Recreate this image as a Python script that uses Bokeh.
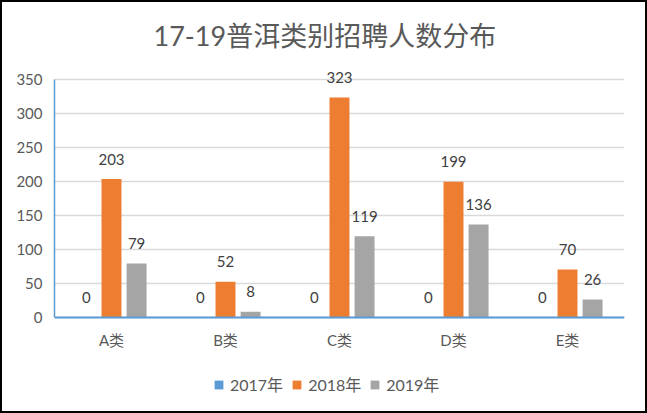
from bokeh.plotting import figure
from bokeh.models import (ColumnDataSource, LabelSet, Legend, LegendItem,
                          Range1d, FixedTicker, FactorRange)
from bokeh.core.properties import value
from bokeh.transform import dodge
from bokeh.embed import file_html
from bokeh.resources import INLINE

title_text = "17-19普洱类别招聘人数分布"
categories = ["A类", "B类", "C类", "D类", "E类"]
series_names = ["2017年", "2018年", "2019年"]
values_2017 = [0, 0, 0, 0, 0]
values_2018 = [203, 52, 323, 199, 70]
values_2019 = [79, 8, 119, 136, 26]
y_ticks = [0, 50, 100, 150, 200, 250, 300, 350]

colors = ["#5B9BD5", "#ED7D31", "#A5A5A5"]
offsets = [-0.22, 0.0, 0.22]
FONT = "Lato, 'Noto Sans CJK SC', sans-serif"

source = ColumnDataSource(dict(
    cat=categories,
    s2017=values_2017, s2018=values_2018, s2019=values_2019,
    l2017=[str(v) for v in values_2017],
    l2018=[str(v) for v in values_2018],
    l2019=[str(v) for v in values_2019],
))

# frame extends below zero so that the category labels and legend sit inside it
p = figure(x_range=FactorRange(*categories), y_range=Range1d(-130, 370),
           frame_width=570, frame_height=340,
           output_backend="svg", toolbar_location=None,
           min_border_left=52, min_border_right=21, min_border_top=63,
           min_border_bottom=6)
p.styles = {"border": "2px solid black"}
p.outline_line_color = None
p.background_fill_color = "white"
p.border_fill_color = "white"

p.title.text = title_text
p.title.align = "left"
p.title.offset = 99
p.title.standoff = 28
p.title.text_font = FONT
p.title.text_font_size = "27px"
p.title.text_font_style = "normal"
p.title.text_color = "#595959"

keys = ["s2017", "s2018", "s2019"]
lkeys = ["l2017", "l2018", "l2019"]
renderers = []
for key, lkey, col, off in zip(keys, lkeys, colors, offsets):
    r = p.vbar(x=dodge("cat", off, range=p.x_range), top=key, width=0.175,
               source=source, color=col, line_color=None)
    renderers.append(r)
    lab = LabelSet(x=dodge("cat", off, range=p.x_range), y=key, text=lkey,
                   source=source, text_align="center", text_baseline="middle",
                   y_offset=20, text_font_size=value("15px"),
                   text_color=value("#404040"), text_font=value(FONT))
    p.add_layout(lab)

p.yaxis.ticker = FixedTicker(ticks=y_ticks)
p.yaxis.bounds = (0, 350)
p.xaxis.fixed_location = 0
p.xgrid.grid_line_color = None
p.ygrid.grid_line_color = "#D9D9D9"
p.ygrid.grid_line_width = 1.5

for ax in (p.xaxis, p.yaxis):
    ax.major_tick_line_color = None
    ax.minor_tick_line_color = None
    ax.major_tick_out = 0
    ax.major_tick_in = 0
    ax.minor_tick_out = 0
    ax.major_label_text_font = FONT
    ax.major_label_text_font_size = "15px"
    ax.major_label_text_color = "#595959"
    ax.axis_line_color = "#5B9BD5"

p.yaxis.axis_line_width = 1.5
p.xaxis.axis_line_width = 2
p.yaxis.major_label_standoff = 12
p.xaxis.major_label_standoff = 14

legend = Legend(items=[LegendItem(label=n, renderers=[r])
                       for n, r in zip(series_names, renderers)],
                orientation="horizontal", location=(159, 9),
                glyph_width=11, glyph_height=11, label_standoff=6, spacing=8,
                label_text_font=FONT, label_text_font_size="16px",
                label_text_color="#595959", border_line_color=None,
                background_fill_alpha=0, margin=0, padding=5)
p.add_layout(legend)

open("out.html", "w").write(file_html(p, INLINE))
